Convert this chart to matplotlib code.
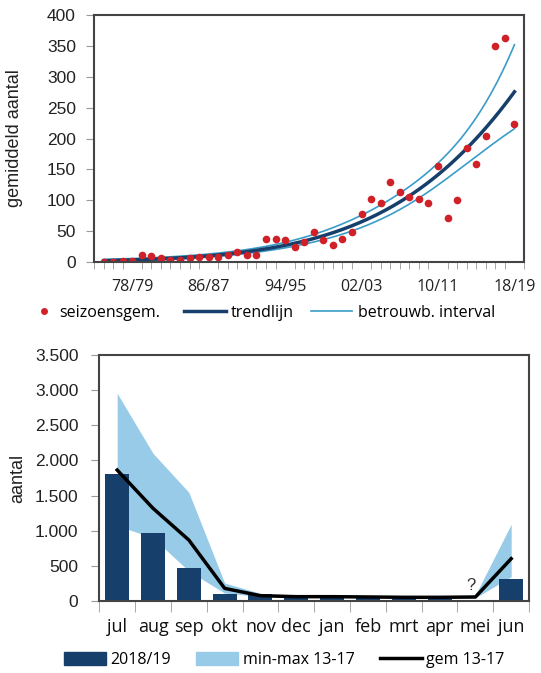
import numpy as np
import matplotlib
matplotlib.use("Agg")
import matplotlib.pyplot as plt
from matplotlib.ticker import FuncFormatter, MultipleLocator
from matplotlib.lines import Line2D
from matplotlib.patches import Patch

# seasons 75/76 .. 18/19, seasonal mean counts
seasons = ["%02d/%02d" % (y % 100, (y + 1) % 100) for y in range(1975, 2019)]
season_mean = [0.5, 0.5, 1.6, 1.6, 12, 9, 6.5, 4, 3, 6, 8, 7.5, 7.5, 12, 17, 11, 11,
               37, 37, 36, 24, 32, 48, 35, 28, 38, 48, 77, 102, 96, 129, 113, 106,
               102, 95, 155, 71, 100, 184, 158, 204, 350, 362, 224]
season_labels = ["78/79", "86/87", "94/95", "02/03", "10/11", "18/19"]

# monthly counts
months = ["jul", "aug", "sep", "okt", "nov", "dec", "jan", "feb", "mrt", "apr", "mei", "jun"]
count_1819 = [1811, 965, 478, 100, 100, 50, 50, 50, 35, 35, 15, 315]
min_1317 = [1074, 900, 430, 117, 70, 55, 55, 50, 50, 50, 50, 350]
max_1317 = [2952, 2100, 1547, 260, 113, 90, 90, 82, 80, 80, 90, 1093]
mean_1317 = [1863, 1320, 870, 184, 80, 66, 66, 62, 57, 57, 61, 605]

RED = "#d02128"
NAVY = "#163f6b"
CI = "#3a9cc8"
BAND = "#98cbe8"
NUM = "Liberation Sans"
TXT = "Open Sans"

# trend: loglinear (quadratic) negative binomial model fitted by IRLS, 95% interval
k = 50
x = np.arange(len(season_mean), dtype=float)
y = np.array(season_mean, dtype=float)
xm = x.mean()

def design(v):
    c = (v - xm) / xm
    return np.column_stack([np.ones_like(c), c, c ** 2])

X = design(x)
beta = np.array([np.log(y.mean()), 0.0, 0.0])
for _ in range(200):
    mu = np.exp(X @ beta)
    z = X @ beta + (y - mu) / mu
    W = mu / (1 + mu / k)
    beta = np.linalg.solve(X.T @ (W[:, None] * X), X.T @ (W * z))
mu = np.exp(X @ beta)
W = mu / (1 + mu / k)
phi = np.sum((y - mu) ** 2 / (mu + mu ** 2 / k)) / (len(y) - X.shape[1])
cov = phi * np.linalg.inv(X.T @ (W[:, None] * X))

xs = np.linspace(0, len(y) - 1, 200)
Xs = design(xs)
eta = Xs @ beta
se = np.sqrt(np.einsum("ij,jk,ik->i", Xs, cov, Xs))
trend = np.exp(eta)
upper = np.exp(eta + 1.96 * se)
lower = np.exp(eta - 1.96 * se)

fig = plt.figure(figsize=(5.41, 6.73), dpi=100)

# ---- top chart
ax1 = fig.add_axes([0.1738, 0.6107, 0.7948, 0.367])
ax1.plot(xs, upper, color=CI, lw=1.2)
ax1.plot(xs, lower, color=CI, lw=1.2)
ax1.plot(xs, trend, color=NAVY, lw=2.5)
ax1.plot(x, y, "o", color=RED, ms=5.5, mec="none")
ax1.set_xlim(-1, len(y))
ax1.set_ylim(0, 400)
ax1.yaxis.set_major_locator(MultipleLocator(50))
ax1.set_xticks([seasons.index(s) for s in season_labels])
ax1.set_xticklabels(season_labels, family=TXT, fontsize=11.5)
ax1.set_xticks(np.arange(-1, len(y) + 1), minor=True)
ax1.tick_params(axis="x", which="major", length=0, pad=12, colors="#222222")
ax1.tick_params(axis="x", which="minor", length=5, color="#999999")
ax1.tick_params(axis="y", length=6, color="#999999", labelsize=12.5, pad=7)
for lab in ax1.get_yticklabels():
    lab.set_family(NUM)
    lab.set_color("#222222")
ax1.set_ylabel("gemiddeld aantal", family=NUM, fontsize=13, color="#222222", labelpad=17)
for s in ax1.spines.values():
    s.set_color("#444444")
    s.set_linewidth(1.5)

ly = 1 - 313 / 673
fig.legend([Line2D([], [], ls="none", marker="o", color=RED, ms=5, mec="none")],
           ["seizoensgem."], loc="center left", bbox_to_anchor=(30 / 541, ly),
           frameon=False, prop={"family": TXT, "size": 11.5}, borderpad=0,
           handlelength=0.8, handletextpad=0.55)
fig.legend([Line2D([], [], color=NAVY, lw=2.5), Line2D([], [], color=CI, lw=1.2)],
           ["trendlijn", "betrouwb. interval"], loc="center left",
           bbox_to_anchor=(176 / 541, ly), ncol=2, frameon=False,
           prop={"family": TXT, "size": 11.5}, borderpad=0,
           handlelength=2.6, handletextpad=0.35, columnspacing=1.05)

# ---- bottom chart
ax2 = fig.add_axes([0.1835, 0.1065, 0.7945, 0.3665])
pos = np.arange(len(months))
ax2.fill_between(pos, min_1317, max_1317, color=BAND, lw=0)
ax2.bar(pos, count_1819, width=0.67, color=NAVY)
ax2.plot(pos, mean_1317, color="black", lw=2.5)
ax2.text(pos[months.index("mei")] - 0.12, 120, "?", ha="center", va="bottom",
         family=NUM, fontsize=12, color="#333333")
ax2.set_xlim(-0.5, len(months) - 0.5)
ax2.set_ylim(0, 3500)
ax2.yaxis.set_major_locator(MultipleLocator(500))
ax2.yaxis.set_major_formatter(FuncFormatter(lambda v, p: "{:,.0f}".format(v).replace(",", ".")))
ax2.set_xticks(pos)
ax2.set_xticklabels(months, family=TXT, fontsize=13)
ax2.set_xticks(np.arange(-0.5, len(months)), minor=True)
ax2.tick_params(axis="x", which="major", length=0, pad=12, colors="#111111")
ax2.tick_params(axis="x", which="minor", length=8, color="#999999")
ax2.tick_params(axis="y", length=6, color="#999999", labelsize=12.5, pad=9)
for lab in ax2.get_yticklabels():
    lab.set_family(NUM)
    lab.set_color("#222222")
ax2.set_ylabel("aantal", family=NUM, fontsize=13, color="#222222", labelpad=6)
for s in ax2.spines.values():
    s.set_color("#444444")
    s.set_linewidth(1.5)

h2 = [Patch(color=NAVY), Patch(color=BAND), Line2D([], [], color="black", lw=2.5)]
fig.legend(h2, ["2018/19", "min-max 13-17", "gem 13-17"],
           loc="center left", bbox_to_anchor=(56 / 541, 1 - 660 / 673), ncol=3,
           frameon=False, prop={"family": TXT, "size": 11.5}, borderpad=0,
           handlelength=2.6, handleheight=0.8, handletextpad=0.3, columnspacing=1.6)

fig.savefig("out.png", dpi=100)
